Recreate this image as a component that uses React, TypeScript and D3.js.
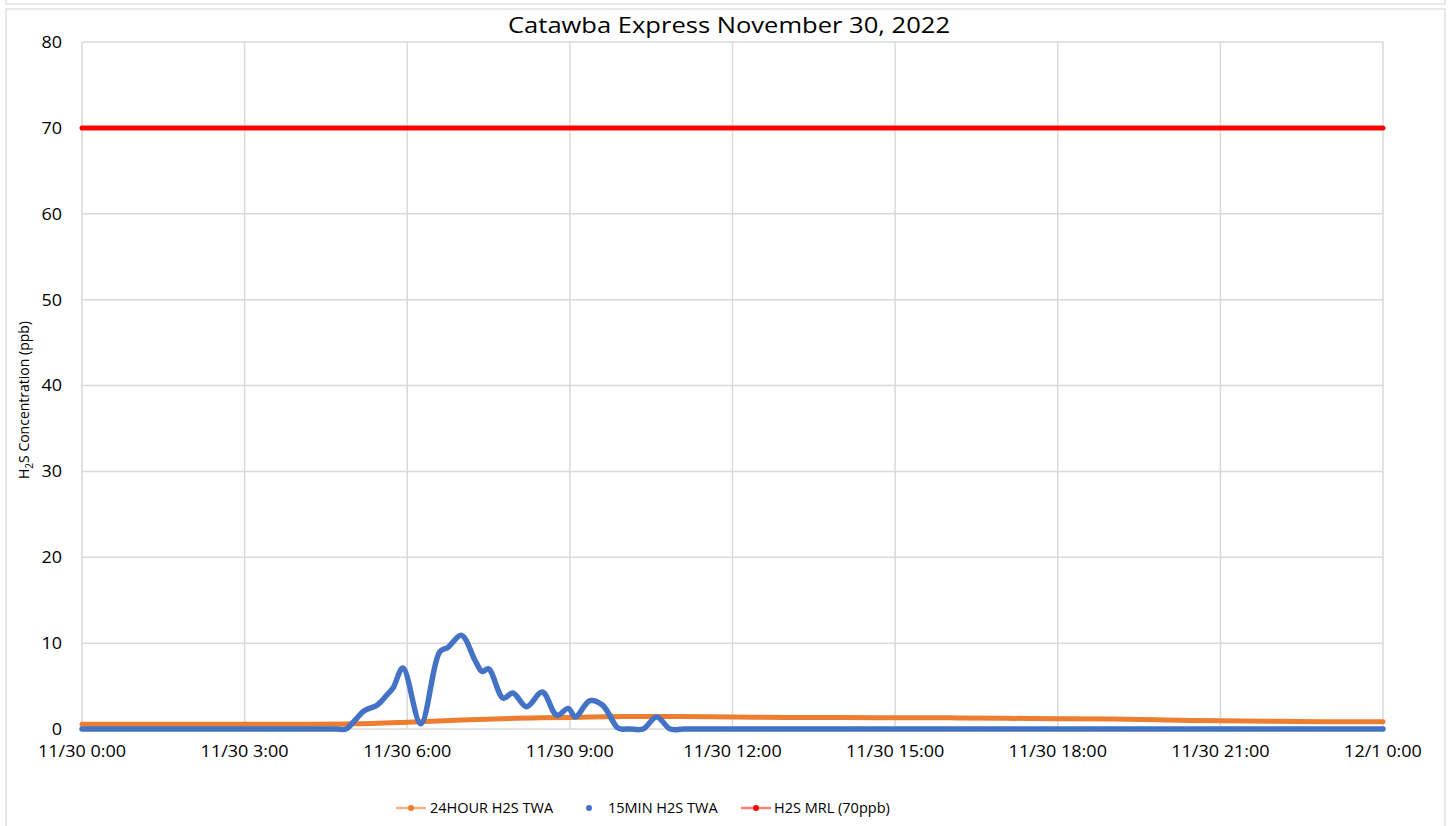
import React from "react";
import * as d3 from "d3";

// ---- Data ----
const xTickHours = [0, 3, 6, 9, 12, 15, 18, 21, 24];
const xTickLabels = [
  "11/30 0:00",
  "11/30 3:00",
  "11/30 6:00",
  "11/30 9:00",
  "11/30 12:00",
  "11/30 15:00",
  "11/30 18:00",
  "11/30 21:00",
  "12/1 0:00",
];
const yTicks = [0, 10, 20, 30, 40, 50, 60, 70, 80];

// 24HOUR H2S TWA (hourly)
const twa24Hours = [0, 1, 2, 3, 4, 5, 6, 7, 8, 9, 10, 11, 12, 13, 14, 15, 16, 17, 18, 19, 20, 21, 22, 23, 24];
const twa24Values = [0.55, 0.55, 0.55, 0.55, 0.55, 0.6, 0.8, 1.05, 1.25, 1.35, 1.45, 1.45, 1.4, 1.35, 1.35, 1.3, 1.3, 1.25, 1.2, 1.15, 1.05, 0.95, 0.9, 0.85, 0.85];

// 15MIN H2S TWA (hours since midnight)
const twa15Hours = [
  0, 1, 2, 3, 4, 4.5, 4.7, 4.87, 5.02, 5.2, 5.45, 5.63, 5.74, 5.92, 6.25, 6.6, 6.75, 7.0, 7.25, 7.38, 7.5,
  7.77, 7.95, 8.2, 8.49, 8.76, 8.97, 9.1, 9.37, 9.6, 9.87, 9.95, 10.1, 10.35, 10.6, 10.85, 11.1, 12,
  13, 14, 15, 16, 17, 18, 19, 20, 21, 22, 23, 24,
];
const twa15Values = [
  0, 0, 0, 0, 0, 0, 0, 0, 0.9, 2.1, 2.8, 4.0, 4.8, 7.1, 0.6, 9.0, 9.5, 10.9, 8.0, 6.7, 7.0,
  3.6, 4.2, 2.6, 4.3, 1.6, 2.4, 1.4, 3.3, 2.8, 0.2, 0, 0, 0, 1.4, 0, 0, 0,
  0, 0, 0, 0, 0, 0, 0, 0, 0, 0, 0, 0,
];

// H2S MRL (70ppb)
const mrlHours = [0, 24];
const mrlValues = [70, 70];

const seriesNames = ["24HOUR H2S TWA", "15MIN H2S TWA", "H2S MRL (70ppb)"];
const seriesColors = ["#ED7D31", "#4472C4", "#FF0000"];
const legendLineColors = ["#F4B183", "", "#FF7F7F"];

const W = 1449;
const H = 826;
const font = "'Open Sans', sans-serif";

export default function App() {
  const x = d3.scaleLinear().domain([0, 24]).range([82, 1383]);
  const y = d3.scaleLinear().domain([0, 80]).range([729, 42]);

  const mk = (hs: number[], vs: number[]) =>
    d3
      .line<number>()
      .x((_, i) => x(hs[i]))
      .y((v) => y(v))
      .curve(d3.curveCatmullRom.alpha(0.5))(vs) || "";

  const orangePath = mk(twa24Hours, twa24Values);
  const bluePath = mk(twa15Hours, twa15Values);
  const redPath = d3
    .line<number>()
    .x((_, i) => x(mrlHours[i]))
    .y((v) => y(v))(mrlValues) || "";

  const legendY = 808;
  const legendItems = [
    { lx: 396, tx: 430 },
    { lx: 589, tx: 608 },
    { lx: 741, tx: 774 },
  ];

  return (
    <svg
      width={W}
      height={H}
      style={{ position: "absolute", left: 0, top: 0, background: "#fff" }}
      fontFamily={font}
    >
      <rect x={0} y={0} width={W} height={H} fill="#fff" />
      {/* frames */}
      <rect x={6} y={-20} width={1439} height={24} fill="none" stroke="#d9d9d9" strokeWidth={1.2} />
      <rect x={6} y={9} width={1439} height={840} fill="none" stroke="#d9d9d9" strokeWidth={1.2} />

      {/* gridlines */}
      {yTicks.map((t) => (
        <line key={"gy" + t} x1={x(0)} x2={x(24)} y1={y(t)} y2={y(t)} stroke="#d9d9d9" strokeWidth={1.5} />
      ))}
      {xTickHours.map((h) => (
        <line key={"gx" + h} x1={x(h)} x2={x(h)} y1={y(80)} y2={y(0)} stroke="#d9d9d9" strokeWidth={1.5} />
      ))}

      {/* y tick labels */}
      {yTicks.map((t) => (
        <text
          key={"yl" + t}
          transform={`translate(62, ${y(t)}) scale(1.06, 1)`}
          dy="0.35em"
          textAnchor="end"
          fontSize={17}
          fill="#000"
        >
          {t}
        </text>
      ))}

      {/* x tick labels */}
      {xTickHours.map((h, i) => (
        <text
          key={"xl" + h}
          transform={`translate(${x(h)}, 757) scale(1.06, 1)`}
          textAnchor="middle"
          fontSize={17}
          fill="#000"
        >
          {xTickLabels[i]}
        </text>
      ))}

      {/* y axis title */}
      <text transform={`translate(29, 400) rotate(-90)`} textAnchor="middle" fontSize={14} fill="#000">
        H<tspan fontSize={10} dy={4}>2</tspan>
        <tspan dy={-4}>S Concentration (ppb)</tspan>
      </text>

      {/* title */}
      <text x={729} y={33} textAnchor="middle" fontSize={22} textLength={442} lengthAdjust="spacingAndGlyphs" fill="#000">
        Catawba Express November 30, 2022
      </text>

      {/* series */}
      <path d={orangePath} fill="none" stroke={seriesColors[0]} strokeWidth={5} strokeLinecap="round" strokeLinejoin="round" />
      <path d={bluePath} fill="none" stroke={seriesColors[1]} strokeWidth={5.5} strokeLinecap="round" strokeLinejoin="round" />
      <path d={redPath} fill="none" stroke={seriesColors[2]} strokeWidth={5} strokeLinecap="round" strokeLinejoin="round" />

      {/* legend */}
      {legendItems.map((it, i) => (
        <g key={"lg" + i}>
          {i !== 1 && (
            <line x1={it.lx} x2={it.lx + 30} y1={legendY} y2={legendY} stroke={legendLineColors[i]} strokeWidth={2.5} />
          )}
          <circle cx={i === 1 ? it.lx : it.lx + 15} cy={legendY} r={3} fill={seriesColors[i]} />
          <text x={it.tx} y={legendY} dy="0.35em" fontSize={14.5} fill="#000">
            {seriesNames[i]}
          </text>
        </g>
      ))}
    </svg>
  );
}
